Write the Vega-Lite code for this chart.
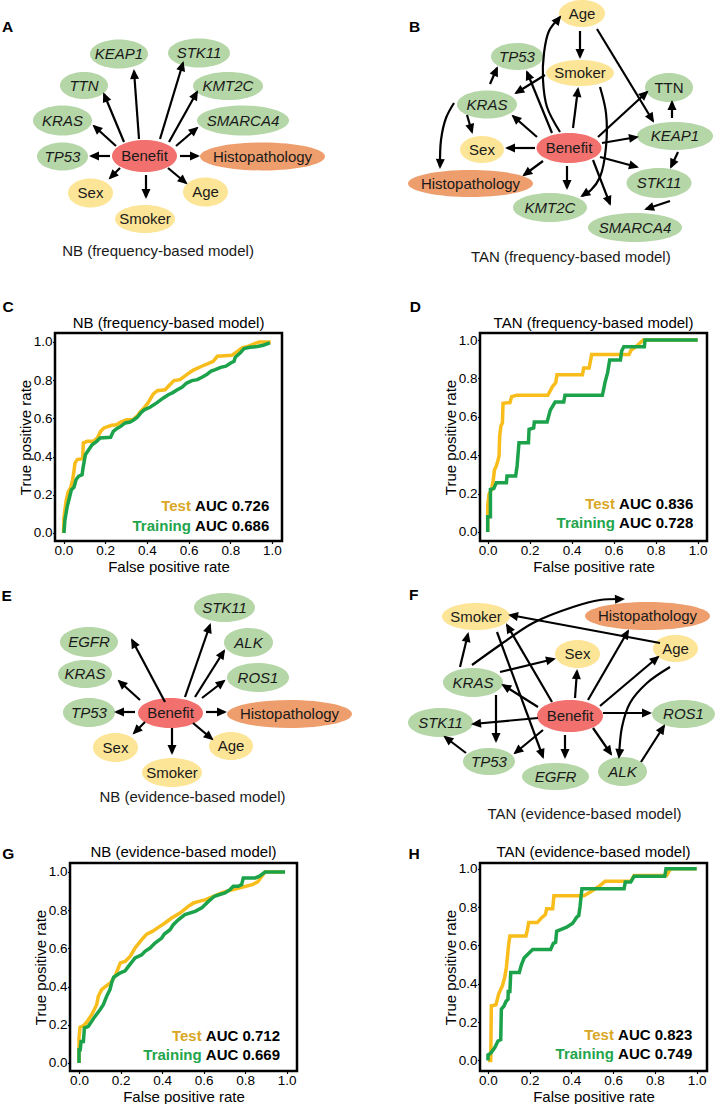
{
"$schema": "https://vega.github.io/schema/vega-lite/v6.json",
"padding": 0,
"background": "white",
"config": {
  "font": "Liberation Sans",
  "view": {"stroke": null},
  "axis": {"grid": false, "domain": false, "tickColor": "black", "tickWidth": 1.2, "tickSize": 2.5, "labelColor": "black", "labelFontSize": 13.5, "titleColor": "black", "titleFontSize": 15, "titleFontWeight": "normal", "labelFlush": false},
  "title": {"fontSize": 15, "fontWeight": "normal", "color": "black", "offset": 2}
},
"datasets": {
  "nodes": [
    {"p":"A","n":"KEAP1","t":"gene","x":119,"y":54},
    {"p":"A","n":"STK11","t":"gene","x":199,"y":53},
    {"p":"A","n":"TTN","t":"gene","x":84,"y":85.5},
    {"p":"A","n":"KMT2C","t":"gene","x":228,"y":86},
    {"p":"A","n":"KRAS","t":"gene","x":62.5,"y":120.5},
    {"p":"A","n":"SMARCA4","t":"gene","x":243,"y":120.5},
    {"p":"A","n":"TP53","t":"gene","x":62.5,"y":156.5},
    {"p":"A","n":"Benefit","t":"ben","x":144.5,"y":156},
    {"p":"A","n":"Histopathology","t":"hist","x":262.5,"y":156.5},
    {"p":"A","n":"Sex","t":"clin","x":90.5,"y":193},
    {"p":"A","n":"Age","t":"clin","x":205.5,"y":192},
    {"p":"A","n":"Smoker","t":"clin","x":145,"y":219},
    {"p":"B","n":"Age","t":"clin","x":582,"y":13.5},
    {"p":"B","n":"TP53","t":"gene","x":517,"y":56.5},
    {"p":"B","n":"Smoker","t":"clin","x":580,"y":73},
    {"p":"B","n":"TTN","t":"gene","x":669,"y":87.5},
    {"p":"B","n":"KRAS","t":"gene","x":487,"y":104.5},
    {"p":"B","n":"KEAP1","t":"gene","x":675,"y":136},
    {"p":"B","n":"Sex","t":"clin","x":482,"y":149.5},
    {"p":"B","n":"Benefit","t":"ben","x":569,"y":148},
    {"p":"B","n":"Histopathology","t":"hist","x":470.5,"y":183.5},
    {"p":"B","n":"STK11","t":"gene","x":659,"y":183},
    {"p":"B","n":"KMT2C","t":"gene","x":550,"y":207.5},
    {"p":"B","n":"SMARCA4","t":"gene","x":635,"y":227.5},
    {"p":"E","n":"STK11","t":"gene","x":224.5,"y":607.5},
    {"p":"E","n":"EGFR","t":"gene","x":89,"y":642},
    {"p":"E","n":"ALK","t":"gene","x":248.5,"y":642.5},
    {"p":"E","n":"KRAS","t":"gene","x":85,"y":674},
    {"p":"E","n":"ROS1","t":"gene","x":258,"y":677.5},
    {"p":"E","n":"TP53","t":"gene","x":89,"y":712.5},
    {"p":"E","n":"Benefit","t":"ben","x":170.5,"y":713},
    {"p":"E","n":"Histopathology","t":"hist","x":289.5,"y":714},
    {"p":"E","n":"Sex","t":"clin","x":115.5,"y":747.5},
    {"p":"E","n":"Age","t":"clin","x":231,"y":746},
    {"p":"E","n":"Smoker","t":"clin","x":172,"y":772.5},
    {"p":"F","n":"Smoker","t":"clin","x":476,"y":616.5},
    {"p":"F","n":"Histopathology","t":"hist","x":647.5,"y":616},
    {"p":"F","n":"Sex","t":"clin","x":577.5,"y":654},
    {"p":"F","n":"Age","t":"clin","x":675.5,"y":648.5},
    {"p":"F","n":"KRAS","t":"gene","x":473,"y":682.5},
    {"p":"F","n":"Benefit","t":"ben","x":570,"y":716},
    {"p":"F","n":"STK11","t":"gene","x":440.5,"y":722.5},
    {"p":"F","n":"ROS1","t":"gene","x":683.5,"y":714},
    {"p":"F","n":"TP53","t":"gene","x":489,"y":761.5},
    {"p":"F","n":"EGFR","t":"gene","x":555.5,"y":776.5},
    {"p":"F","n":"ALK","t":"gene","x":622.5,"y":771.5}
  ],
  "edges": [
    {"p":"A","e":"a1","i":0,"x":139,"y":139},{"p":"A","e":"a1","i":1,"x":134,"y":71},
    {"p":"A","e":"a2","i":0,"x":160,"y":139},{"p":"A","e":"a2","i":1,"x":183,"y":63},
    {"p":"A","e":"a3","i":0,"x":124,"y":142},{"p":"A","e":"a3","i":1,"x":104,"y":94},
    {"p":"A","e":"a4","i":0,"x":169,"y":142},{"p":"A","e":"a4","i":1,"x":197,"y":92},
    {"p":"A","e":"a5","i":0,"x":116,"y":146},{"p":"A","e":"a5","i":1,"x":94,"y":126},
    {"p":"A","e":"a6","i":0,"x":176,"y":146},{"p":"A","e":"a6","i":1,"x":197,"y":128},
    {"p":"A","e":"a7","i":0,"x":110,"y":156},{"p":"A","e":"a7","i":1,"x":91,"y":156},
    {"p":"A","e":"a8","i":0,"x":180,"y":156},{"p":"A","e":"a8","i":1,"x":198,"y":156},
    {"p":"A","e":"a9","i":0,"x":120,"y":168},{"p":"A","e":"a9","i":1,"x":110,"y":178},
    {"p":"A","e":"a10","i":0,"x":146,"y":175},{"p":"A","e":"a10","i":1,"x":146,"y":197},
    {"p":"A","e":"a11","i":0,"x":168,"y":168},{"p":"A","e":"a11","i":1,"x":186,"y":183},
    {"p":"B","e":"b1","i":0,"x":580,"y":31},{"p":"B","e":"b1","i":1,"x":580,"y":57},
    {"p":"B","e":"b2","i":0,"x":597,"y":29},{"p":"B","e":"b2","i":1,"x":653,"y":121},
    {"p":"B","e":"b3","i":0,"x":560,"y":132},{"p":"B","e":"b3","i":1,"x":547,"y":107},{"p":"B","e":"b3","i":2,"x":543,"y":80},{"p":"B","e":"b3","i":3,"x":544,"y":53},{"p":"B","e":"b3","i":4,"x":549,"y":31},{"p":"B","e":"b3","i":5,"x":560,"y":17},
    {"p":"B","e":"b4","i":0,"x":600,"y":87},{"p":"B","e":"b4","i":1,"x":606,"y":113},{"p":"B","e":"b4","i":2,"x":606,"y":147},{"p":"B","e":"b4","i":3,"x":600,"y":177},{"p":"B","e":"b4","i":4,"x":591,"y":190},{"p":"B","e":"b4","i":5,"x":582,"y":196},
    {"p":"B","e":"b5","i":0,"x":545,"y":75},{"p":"B","e":"b5","i":1,"x":516,"y":93},
    {"p":"B","e":"b6","i":0,"x":490,"y":84},{"p":"B","e":"b6","i":1,"x":497,"y":68},
    {"p":"B","e":"b7","i":0,"x":467,"y":115},{"p":"B","e":"b7","i":1,"x":472,"y":132},
    {"p":"B","e":"b8","i":0,"x":454,"y":103},{"p":"B","e":"b8","i":1,"x":446,"y":118},{"p":"B","e":"b8","i":2,"x":441,"y":140},{"p":"B","e":"b8","i":3,"x":440,"y":167},
    {"p":"B","e":"b9","i":0,"x":537,"y":137},{"p":"B","e":"b9","i":1,"x":513,"y":116},
    {"p":"B","e":"b10","i":0,"x":573,"y":128},{"p":"B","e":"b10","i":1,"x":578,"y":89},
    {"p":"B","e":"b11","i":0,"x":598,"y":137},{"p":"B","e":"b11","i":1,"x":647,"y":92},
    {"p":"B","e":"b12","i":0,"x":602,"y":143},{"p":"B","e":"b12","i":1,"x":637,"y":137},
    {"p":"B","e":"b13","i":0,"x":672,"y":118},{"p":"B","e":"b13","i":1,"x":672,"y":102},
    {"p":"B","e":"b14","i":0,"x":678,"y":152},{"p":"B","e":"b14","i":1,"x":671,"y":167},
    {"p":"B","e":"b15","i":0,"x":600,"y":157},{"p":"B","e":"b15","i":1,"x":637,"y":167},
    {"p":"B","e":"b16","i":0,"x":670,"y":201},{"p":"B","e":"b16","i":1,"x":646,"y":209},
    {"p":"B","e":"b17","i":0,"x":593,"y":160},{"p":"B","e":"b17","i":1,"x":610,"y":204},
    {"p":"B","e":"b18","i":0,"x":567,"y":166},{"p":"B","e":"b18","i":1,"x":567,"y":188},
    {"p":"B","e":"b19","i":0,"x":543,"y":161},{"p":"B","e":"b19","i":1,"x":524,"y":175},
    {"p":"B","e":"b20","i":0,"x":535,"y":148},{"p":"B","e":"b20","i":1,"x":507,"y":148},
    {"p":"B","e":"b21","i":0,"x":552,"y":133},{"p":"B","e":"b21","i":1,"x":527,"y":72},
    {"p":"E","e":"e1","i":0,"x":165,"y":702},{"p":"E","e":"e1","i":1,"x":132,"y":640},
    {"p":"E","e":"e2","i":0,"x":185,"y":697},{"p":"E","e":"e2","i":1,"x":210,"y":625},
    {"p":"E","e":"e3","i":0,"x":195,"y":697},{"p":"E","e":"e3","i":1,"x":224,"y":651},
    {"p":"E","e":"e4","i":0,"x":140,"y":700},{"p":"E","e":"e4","i":1,"x":119,"y":681},
    {"p":"E","e":"e5","i":0,"x":202,"y":698},{"p":"E","e":"e5","i":1,"x":224,"y":681},
    {"p":"E","e":"e6","i":0,"x":135,"y":712},{"p":"E","e":"e6","i":1,"x":116,"y":712},
    {"p":"E","e":"e7","i":0,"x":206,"y":712},{"p":"E","e":"e7","i":1,"x":225,"y":712},
    {"p":"E","e":"e8","i":0,"x":145,"y":722},{"p":"E","e":"e8","i":1,"x":134,"y":733},
    {"p":"E","e":"e9","i":0,"x":172,"y":728},{"p":"E","e":"e9","i":1,"x":172,"y":753},
    {"p":"E","e":"e10","i":0,"x":193,"y":723},{"p":"E","e":"e10","i":1,"x":212,"y":739},
    {"p":"F","e":"f1","i":0,"x":472,"y":665},{"p":"F","e":"f1","i":1,"x":500,"y":645},{"p":"F","e":"f1","i":2,"x":533,"y":623},{"p":"F","e":"f1","i":3,"x":573,"y":607},{"p":"F","e":"f1","i":4,"x":600,"y":600},{"p":"F","e":"f1","i":5,"x":623,"y":599},
    {"p":"F","e":"f2","i":0,"x":660,"y":643},{"p":"F","e":"f2","i":1,"x":510,"y":615},
    {"p":"F","e":"f3","i":0,"x":460,"y":667},{"p":"F","e":"f3","i":1,"x":468,"y":634},
    {"p":"F","e":"f4","i":0,"x":497,"y":632},{"p":"F","e":"f4","i":1,"x":543,"y":757},
    {"p":"F","e":"f5","i":0,"x":552,"y":702},{"p":"F","e":"f5","i":1,"x":507,"y":625},
    {"p":"F","e":"f6","i":0,"x":500,"y":672},{"p":"F","e":"f6","i":1,"x":554,"y":659},
    {"p":"F","e":"f7","i":0,"x":575,"y":698},{"p":"F","e":"f7","i":1,"x":577,"y":671},
    {"p":"F","e":"f8","i":0,"x":588,"y":700},{"p":"F","e":"f8","i":1,"x":628,"y":631},
    {"p":"F","e":"f9","i":0,"x":600,"y":706},{"p":"F","e":"f9","i":1,"x":658,"y":657},
    {"p":"F","e":"f10","i":0,"x":670,"y":667},{"p":"F","e":"f10","i":1,"x":647,"y":683},{"p":"F","e":"f10","i":2,"x":630,"y":703},{"p":"F","e":"f10","i":3,"x":622,"y":727},{"p":"F","e":"f10","i":4,"x":619,"y":757},
    {"p":"F","e":"f11","i":0,"x":538,"y":707},{"p":"F","e":"f11","i":1,"x":503,"y":685},
    {"p":"F","e":"f12","i":0,"x":603,"y":713},{"p":"F","e":"f12","i":1,"x":650,"y":713},
    {"p":"F","e":"f13","i":0,"x":538,"y":718},{"p":"F","e":"f13","i":1,"x":473,"y":724},
    {"p":"F","e":"f14","i":0,"x":496,"y":695},{"p":"F","e":"f14","i":1,"x":496,"y":741},
    {"p":"F","e":"f15","i":0,"x":543,"y":730},{"p":"F","e":"f15","i":1,"x":515,"y":753},
    {"p":"F","e":"f16","i":0,"x":565,"y":735},{"p":"F","e":"f16","i":1,"x":565,"y":757},
    {"p":"F","e":"f17","i":0,"x":593,"y":728},{"p":"F","e":"f17","i":1,"x":611,"y":754},
    {"p":"F","e":"f18","i":0,"x":466,"y":753},{"p":"F","e":"f18","i":1,"x":445,"y":737},
    {"p":"F","e":"f19","i":0,"x":641,"y":762},{"p":"F","e":"f19","i":1,"x":664,"y":726}
  ],
  "labels": [
    {"p":"A","k":"letter","s":"A","x":7.5,"y":31.5},
    {"p":"A","k":"letter","s":"C","x":8,"y":311.7},
    {"p":"A","k":"caption","s":"NB (frequency-based model)","x":158,"y":256},
    {"p":"B","k":"letter","s":"B","x":414.5,"y":31.7},
    {"p":"B","k":"letter","s":"D","x":415.3,"y":311.7},
    {"p":"B","k":"caption","s":"TAN (frequency-based model)","x":570.8,"y":262},
    {"p":"E","k":"letter","s":"E","x":6.7,"y":600.7},
    {"p":"E","k":"letter","s":"G","x":8.3,"y":859},
    {"p":"E","k":"caption","s":"NB (evidence-based model)","x":192.5,"y":802},
    {"p":"F","k":"letter","s":"F","x":413.8,"y":600},
    {"p":"F","k":"letter","s":"H","x":414.2,"y":859},
    {"p":"F","k":"caption","s":"TAN (evidence-based model)","x":584.5,"y":818.5}
  ],
  "auc": [
    {"p":"C","s":"Test","a":"AUC 0.726","f":0.987,"t":0.117},
    {"p":"C","s":"Training","a":"AUC 0.686","f":0.987,"t":0.012},
    {"p":"D","s":"Test","a":"AUC 0.836","f":0.979,"t":0.118},
    {"p":"D","s":"Training","a":"AUC 0.728","f":0.979,"t":0.02},
    {"p":"G","s":"Test","a":"AUC 0.712","f":0.968,"t":0.114},
    {"p":"G","s":"Training","a":"AUC 0.669","f":0.968,"t":0.017},
    {"p":"H","s":"Test","a":"AUC 0.823","f":0.979,"t":0.105},
    {"p":"H","s":"Training","a":"AUC 0.749","f":0.979,"t":0.005}
  ],
  "roc": [
    {"p":"C","s":"Test","f":0,"t":0},{"p":"C","s":"Test","f":0.002,"t":0.079},{"p":"C","s":"Test","f":0.012,"t":0.166},{"p":"C","s":"Test","f":0.023,"t":0.218},{"p":"C","s":"Test","f":0.034,"t":0.236},{"p":"C","s":"Test","f":0.044,"t":0.279},{"p":"C","s":"Test","f":0.05,"t":0.323},{"p":"C","s":"Test","f":0.055,"t":0.366},{"p":"C","s":"Test","f":0.066,"t":0.384},{"p":"C","s":"Test","f":0.092,"t":0.389},{"p":"C","s":"Test","f":0.095,"t":0.471},{"p":"C","s":"Test","f":0.114,"t":0.48},{"p":"C","s":"Test","f":0.143,"t":0.48},{"p":"C","s":"Test","f":0.162,"t":0.497},{"p":"C","s":"Test","f":0.178,"t":0.532},{"p":"C","s":"Test","f":0.194,"t":0.55},{"p":"C","s":"Test","f":0.231,"t":0.564},{"p":"C","s":"Test","f":0.255,"t":0.567},{"p":"C","s":"Test","f":0.274,"t":0.581},{"p":"C","s":"Test","f":0.303,"t":0.593},{"p":"C","s":"Test","f":0.332,"t":0.593},{"p":"C","s":"Test","f":0.354,"t":0.614},{"p":"C","s":"Test","f":0.37,"t":0.637},{"p":"C","s":"Test","f":0.386,"t":0.654},{"p":"C","s":"Test","f":0.408,"t":0.686},{"p":"C","s":"Test","f":0.431,"t":0.728},{"p":"C","s":"Test","f":0.45,"t":0.745},{"p":"C","s":"Test","f":0.487,"t":0.75},{"p":"C","s":"Test","f":0.511,"t":0.777},{"p":"C","s":"Test","f":0.53,"t":0.798},{"p":"C","s":"Test","f":0.559,"t":0.803},{"p":"C","s":"Test","f":0.591,"t":0.829},{"p":"C","s":"Test","f":0.623,"t":0.853},{"p":"C","s":"Test","f":0.663,"t":0.873},{"p":"C","s":"Test","f":0.69,"t":0.885},{"p":"C","s":"Test","f":0.718,"t":0.899},{"p":"C","s":"Test","f":0.738,"t":0.925},{"p":"C","s":"Test","f":0.807,"t":0.93},{"p":"C","s":"Test","f":0.834,"t":0.951},{"p":"C","s":"Test","f":0.856,"t":0.969},{"p":"C","s":"Test","f":0.882,"t":0.976},{"p":"C","s":"Test","f":0.914,"t":0.99},{"p":"C","s":"Test","f":0.939,"t":1},{"p":"C","s":"Test","f":0.994,"t":1},
    {"p":"C","s":"Training","f":0.002,"t":0},{"p":"C","s":"Training","f":0.007,"t":0.07},{"p":"C","s":"Training","f":0.018,"t":0.14},{"p":"C","s":"Training","f":0.028,"t":0.183},{"p":"C","s":"Training","f":0.038,"t":0.227},{"p":"C","s":"Training","f":0.05,"t":0.239},{"p":"C","s":"Training","f":0.06,"t":0.279},{"p":"C","s":"Training","f":0.073,"t":0.297},{"p":"C","s":"Training","f":0.089,"t":0.305},{"p":"C","s":"Training","f":0.095,"t":0.349},{"p":"C","s":"Training","f":0.105,"t":0.41},{"p":"C","s":"Training","f":0.121,"t":0.436},{"p":"C","s":"Training","f":0.137,"t":0.462},{"p":"C","s":"Training","f":0.159,"t":0.48},{"p":"C","s":"Training","f":0.175,"t":0.497},{"p":"C","s":"Training","f":0.226,"t":0.501},{"p":"C","s":"Training","f":0.239,"t":0.532},{"p":"C","s":"Training","f":0.255,"t":0.546},{"p":"C","s":"Training","f":0.274,"t":0.558},{"p":"C","s":"Training","f":0.296,"t":0.576},{"p":"C","s":"Training","f":0.319,"t":0.581},{"p":"C","s":"Training","f":0.338,"t":0.593},{"p":"C","s":"Training","f":0.354,"t":0.606},{"p":"C","s":"Training","f":0.37,"t":0.628},{"p":"C","s":"Training","f":0.389,"t":0.646},{"p":"C","s":"Training","f":0.415,"t":0.658},{"p":"C","s":"Training","f":0.447,"t":0.681},{"p":"C","s":"Training","f":0.479,"t":0.707},{"p":"C","s":"Training","f":0.503,"t":0.724},{"p":"C","s":"Training","f":0.524,"t":0.735},{"p":"C","s":"Training","f":0.546,"t":0.75},{"p":"C","s":"Training","f":0.568,"t":0.763},{"p":"C","s":"Training","f":0.591,"t":0.785},{"p":"C","s":"Training","f":0.616,"t":0.798},{"p":"C","s":"Training","f":0.642,"t":0.803},{"p":"C","s":"Training","f":0.664,"t":0.815},{"p":"C","s":"Training","f":0.687,"t":0.829},{"p":"C","s":"Training","f":0.706,"t":0.846},{"p":"C","s":"Training","f":0.728,"t":0.855},{"p":"C","s":"Training","f":0.754,"t":0.867},{"p":"C","s":"Training","f":0.779,"t":0.873},{"p":"C","s":"Training","f":0.802,"t":0.89},{"p":"C","s":"Training","f":0.818,"t":0.899},{"p":"C","s":"Training","f":0.824,"t":0.92},{"p":"C","s":"Training","f":0.847,"t":0.942},{"p":"C","s":"Training","f":0.866,"t":0.965},{"p":"C","s":"Training","f":0.894,"t":0.972},{"p":"C","s":"Training","f":0.93,"t":0.976},{"p":"C","s":"Training","f":0.958,"t":0.983},{"p":"C","s":"Training","f":0.99,"t":0.995},
    {"p":"D","s":"Test","f":0,"t":0},{"p":"D","s":"Test","f":0,"t":0.135},{"p":"D","s":"Test","f":0.006,"t":0.196},{"p":"D","s":"Test","f":0.019,"t":0.222},{"p":"D","s":"Test","f":0.027,"t":0.274},{"p":"D","s":"Test","f":0.032,"t":0.323},{"p":"D","s":"Test","f":0.041,"t":0.344},{"p":"D","s":"Test","f":0.048,"t":0.37},{"p":"D","s":"Test","f":0.054,"t":0.396},{"p":"D","s":"Test","f":0.057,"t":0.5},{"p":"D","s":"Test","f":0.063,"t":0.552},{"p":"D","s":"Test","f":0.07,"t":0.569},{"p":"D","s":"Test","f":0.073,"t":0.67},{"p":"D","s":"Test","f":0.106,"t":0.674},{"p":"D","s":"Test","f":0.114,"t":0.705},{"p":"D","s":"Test","f":0.138,"t":0.712},{"p":"D","s":"Test","f":0.286,"t":0.712},{"p":"D","s":"Test","f":0.297,"t":0.734},{"p":"D","s":"Test","f":0.308,"t":0.757},{"p":"D","s":"Test","f":0.324,"t":0.778},{"p":"D","s":"Test","f":0.33,"t":0.819},{"p":"D","s":"Test","f":0.451,"t":0.819},{"p":"D","s":"Test","f":0.457,"t":0.854},{"p":"D","s":"Test","f":0.483,"t":0.854},{"p":"D","s":"Test","f":0.495,"t":0.924},{"p":"D","s":"Test","f":0.673,"t":0.924},{"p":"D","s":"Test","f":0.683,"t":0.948},{"p":"D","s":"Test","f":0.7,"t":0.96},{"p":"D","s":"Test","f":0.741,"t":1},{"p":"D","s":"Test","f":1,"t":1},
    {"p":"D","s":"Training","f":0,"t":0},{"p":"D","s":"Training","f":0,"t":0.08},{"p":"D","s":"Training","f":0.013,"t":0.08},{"p":"D","s":"Training","f":0.013,"t":0.222},{"p":"D","s":"Training","f":0.029,"t":0.226},{"p":"D","s":"Training","f":0.041,"t":0.257},{"p":"D","s":"Training","f":0.089,"t":0.257},{"p":"D","s":"Training","f":0.092,"t":0.292},{"p":"D","s":"Training","f":0.133,"t":0.292},{"p":"D","s":"Training","f":0.14,"t":0.344},{"p":"D","s":"Training","f":0.149,"t":0.465},{"p":"D","s":"Training","f":0.194,"t":0.465},{"p":"D","s":"Training","f":0.197,"t":0.535},{"p":"D","s":"Training","f":0.219,"t":0.542},{"p":"D","s":"Training","f":0.222,"t":0.573},{"p":"D","s":"Training","f":0.283,"t":0.573},{"p":"D","s":"Training","f":0.298,"t":0.635},{"p":"D","s":"Training","f":0.321,"t":0.677},{"p":"D","s":"Training","f":0.362,"t":0.677},{"p":"D","s":"Training","f":0.368,"t":0.712},{"p":"D","s":"Training","f":0.546,"t":0.712},{"p":"D","s":"Training","f":0.552,"t":0.743},{"p":"D","s":"Training","f":0.559,"t":0.781},{"p":"D","s":"Training","f":0.571,"t":0.83},{"p":"D","s":"Training","f":0.581,"t":0.896},{"p":"D","s":"Training","f":0.632,"t":0.896},{"p":"D","s":"Training","f":0.638,"t":0.943},{"p":"D","s":"Training","f":0.648,"t":0.965},{"p":"D","s":"Training","f":0.746,"t":0.965},{"p":"D","s":"Training","f":0.749,"t":1},{"p":"D","s":"Training","f":1,"t":1},
    {"p":"G","s":"Test","f":0,"t":0},{"p":"G","s":"Test","f":0,"t":0.061},{"p":"G","s":"Test","f":0,"t":0.131},{"p":"G","s":"Test","f":0.005,"t":0.187},{"p":"G","s":"Test","f":0.021,"t":0.195},{"p":"G","s":"Test","f":0.037,"t":0.213},{"p":"G","s":"Test","f":0.061,"t":0.253},{"p":"G","s":"Test","f":0.085,"t":0.305},{"p":"G","s":"Test","f":0.093,"t":0.349},{"p":"G","s":"Test","f":0.109,"t":0.384},{"p":"G","s":"Test","f":0.128,"t":0.401},{"p":"G","s":"Test","f":0.151,"t":0.419},{"p":"G","s":"Test","f":0.173,"t":0.454},{"p":"G","s":"Test","f":0.189,"t":0.497},{"p":"G","s":"Test","f":0.199,"t":0.524},{"p":"G","s":"Test","f":0.222,"t":0.532},{"p":"G","s":"Test","f":0.246,"t":0.558},{"p":"G","s":"Test","f":0.27,"t":0.602},{"p":"G","s":"Test","f":0.302,"t":0.646},{"p":"G","s":"Test","f":0.326,"t":0.675},{"p":"G","s":"Test","f":0.353,"t":0.689},{"p":"G","s":"Test","f":0.382,"t":0.71},{"p":"G","s":"Test","f":0.414,"t":0.733},{"p":"G","s":"Test","f":0.446,"t":0.759},{"p":"G","s":"Test","f":0.486,"t":0.785},{"p":"G","s":"Test","f":0.526,"t":0.82},{"p":"G","s":"Test","f":0.551,"t":0.838},{"p":"G","s":"Test","f":0.578,"t":0.846},{"p":"G","s":"Test","f":0.61,"t":0.855},{"p":"G","s":"Test","f":0.647,"t":0.873},{"p":"G","s":"Test","f":0.687,"t":0.89},{"p":"G","s":"Test","f":0.719,"t":0.902},{"p":"G","s":"Test","f":0.743,"t":0.908},{"p":"G","s":"Test","f":0.77,"t":0.916},{"p":"G","s":"Test","f":0.803,"t":0.925},{"p":"G","s":"Test","f":0.835,"t":0.934},{"p":"G","s":"Test","f":0.86,"t":0.948},{"p":"G","s":"Test","f":0.896,"t":1},{"p":"G","s":"Test","f":0.992,"t":1},
    {"p":"G","s":"Training","f":0,"t":0},{"p":"G","s":"Training","f":0,"t":0.07},{"p":"G","s":"Training","f":0.006,"t":0.07},{"p":"G","s":"Training","f":0.01,"t":0.113},{"p":"G","s":"Training","f":0.021,"t":0.113},{"p":"G","s":"Training","f":0.026,"t":0.183},{"p":"G","s":"Training","f":0.045,"t":0.192},{"p":"G","s":"Training","f":0.061,"t":0.218},{"p":"G","s":"Training","f":0.077,"t":0.244},{"p":"G","s":"Training","f":0.101,"t":0.279},{"p":"G","s":"Training","f":0.117,"t":0.305},{"p":"G","s":"Training","f":0.133,"t":0.349},{"p":"G","s":"Training","f":0.149,"t":0.384},{"p":"G","s":"Training","f":0.157,"t":0.419},{"p":"G","s":"Training","f":0.167,"t":0.449},{"p":"G","s":"Training","f":0.197,"t":0.471},{"p":"G","s":"Training","f":0.222,"t":0.483},{"p":"G","s":"Training","f":0.238,"t":0.506},{"p":"G","s":"Training","f":0.27,"t":0.55},{"p":"G","s":"Training","f":0.302,"t":0.567},{"p":"G","s":"Training","f":0.318,"t":0.585},{"p":"G","s":"Training","f":0.342,"t":0.602},{"p":"G","s":"Training","f":0.366,"t":0.628},{"p":"G","s":"Training","f":0.398,"t":0.654},{"p":"G","s":"Training","f":0.411,"t":0.675},{"p":"G","s":"Training","f":0.438,"t":0.698},{"p":"G","s":"Training","f":0.454,"t":0.724},{"p":"G","s":"Training","f":0.478,"t":0.75},{"p":"G","s":"Training","f":0.51,"t":0.777},{"p":"G","s":"Training","f":0.559,"t":0.794},{"p":"G","s":"Training","f":0.591,"t":0.812},{"p":"G","s":"Training","f":0.623,"t":0.846},{"p":"G","s":"Training","f":0.652,"t":0.873},{"p":"G","s":"Training","f":0.674,"t":0.881},{"p":"G","s":"Training","f":0.703,"t":0.89},{"p":"G","s":"Training","f":0.727,"t":0.908},{"p":"G","s":"Training","f":0.743,"t":0.925},{"p":"G","s":"Training","f":0.767,"t":0.925},{"p":"G","s":"Training","f":0.783,"t":0.934},{"p":"G","s":"Training","f":0.791,"t":0.969},{"p":"G","s":"Training","f":0.848,"t":0.969},{"p":"G","s":"Training","f":0.867,"t":0.977},{"p":"G","s":"Training","f":0.896,"t":1},{"p":"G","s":"Training","f":0.992,"t":1},
    {"p":"H","s":"Test","f":0,"t":0},{"p":"H","s":"Test","f":0.013,"t":0},{"p":"H","s":"Test","f":0.016,"t":0.284},{"p":"H","s":"Test","f":0.038,"t":0.29},{"p":"H","s":"Test","f":0.051,"t":0.346},{"p":"H","s":"Test","f":0.069,"t":0.389},{"p":"H","s":"Test","f":0.08,"t":0.433},{"p":"H","s":"Test","f":0.088,"t":0.485},{"p":"H","s":"Test","f":0.093,"t":0.538},{"p":"H","s":"Test","f":0.099,"t":0.604},{"p":"H","s":"Test","f":0.105,"t":0.649},{"p":"H","s":"Test","f":0.182,"t":0.649},{"p":"H","s":"Test","f":0.188,"t":0.677},{"p":"H","s":"Test","f":0.195,"t":0.719},{"p":"H","s":"Test","f":0.236,"t":0.719},{"p":"H","s":"Test","f":0.256,"t":0.743},{"p":"H","s":"Test","f":0.275,"t":0.761},{"p":"H","s":"Test","f":0.281,"t":0.791},{"p":"H","s":"Test","f":0.31,"t":0.791},{"p":"H","s":"Test","f":0.316,"t":0.859},{"p":"H","s":"Test","f":0.46,"t":0.859},{"p":"H","s":"Test","f":0.492,"t":0.88},{"p":"H","s":"Test","f":0.532,"t":0.908},{"p":"H","s":"Test","f":0.561,"t":0.934},{"p":"H","s":"Test","f":0.684,"t":0.934},{"p":"H","s":"Test","f":0.7,"t":0.965},{"p":"H","s":"Test","f":0.856,"t":0.965},{"p":"H","s":"Test","f":0.875,"t":1},{"p":"H","s":"Test","f":1,"t":1},
    {"p":"H","s":"Training","f":0,"t":0},{"p":"H","s":"Training","f":0,"t":0.028},{"p":"H","s":"Training","f":0.013,"t":0.038},{"p":"H","s":"Training","f":0.032,"t":0.066},{"p":"H","s":"Training","f":0.048,"t":0.101},{"p":"H","s":"Training","f":0.061,"t":0.108},{"p":"H","s":"Training","f":0.064,"t":0.267},{"p":"H","s":"Training","f":0.077,"t":0.284},{"p":"H","s":"Training","f":0.086,"t":0.307},{"p":"H","s":"Training","f":0.096,"t":0.319},{"p":"H","s":"Training","f":0.097,"t":0.36},{"p":"H","s":"Training","f":0.105,"t":0.36},{"p":"H","s":"Training","f":0.109,"t":0.459},{"p":"H","s":"Training","f":0.15,"t":0.459},{"p":"H","s":"Training","f":0.16,"t":0.499},{"p":"H","s":"Training","f":0.173,"t":0.534},{"p":"H","s":"Training","f":0.192,"t":0.555},{"p":"H","s":"Training","f":0.214,"t":0.578},{"p":"H","s":"Training","f":0.3,"t":0.578},{"p":"H","s":"Training","f":0.313,"t":0.611},{"p":"H","s":"Training","f":0.324,"t":0.616},{"p":"H","s":"Training","f":0.329,"t":0.674},{"p":"H","s":"Training","f":0.351,"t":0.684},{"p":"H","s":"Training","f":0.377,"t":0.695},{"p":"H","s":"Training","f":0.406,"t":0.716},{"p":"H","s":"Training","f":0.425,"t":0.747},{"p":"H","s":"Training","f":0.435,"t":0.756},{"p":"H","s":"Training","f":0.441,"t":0.803},{"p":"H","s":"Training","f":0.45,"t":0.895},{"p":"H","s":"Training","f":0.652,"t":0.895},{"p":"H","s":"Training","f":0.658,"t":0.93},{"p":"H","s":"Training","f":0.684,"t":0.93},{"p":"H","s":"Training","f":0.7,"t":0.96},{"p":"H","s":"Training","f":0.847,"t":0.96},{"p":"H","s":"Training","f":0.853,"t":1},{"p":"H","s":"Training","f":1,"t":1}
  ],
  "frame": [
    {"p":"G","f":-0.0433,"f2":1.0496,"t":-0.0419,"t2":1.0471}
  ]
},
"columns": 4,
"align": "each",
"spacing": 0,
"bounds": "flush",
"resolve": {"scale": {"shape": "independent", "fill": "independent", "stroke": "independent"}},
"concat": [
  {
    "width": 55, "height": 333,
    "encoding": {
      "x": {"field": "x", "type": "quantitative", "scale": {"domain": [0, 55], "nice": false, "zero": false}, "axis": null},
      "y": {"field": "y", "type": "quantitative", "scale": {"domain": [0, 333], "nice": false, "zero": false, "reverse": true}, "axis": null}
    },
    "layer": [
      {"data": {"name": "nodes"}, "transform": [{"filter": "datum.p=='A'"}],
       "mark": {"type": "point", "filled": true, "size": 4, "opacity": 1, "strokeWidth": 0},
       "encoding": {
         "shape": {"field": "n", "type": "nominal", "legend": null, "scale": {
           "domain": ["KEAP1","STK11","TTN","KMT2C","KRAS","SMARCA4","TP53","Benefit","Histopathology","Sex","Age","Smoker"],
           "range": ["M-29,0A29,14.5 0 1 0 29,0A29,14.5 0 1 0 -29,0Z","M-31,0A31,14.5 0 1 0 31,0A31,14.5 0 1 0 -31,0Z","M-24,0A24,13.5 0 1 0 24,0A24,13.5 0 1 0 -24,0Z","M-35,0A35,14 0 1 0 35,0A35,14 0 1 0 -35,0Z","M-29.5,0A29.5,15 0 1 0 29.5,0A29.5,15 0 1 0 -29.5,0Z","M-46,0A46,15 0 1 0 46,0A46,15 0 1 0 -46,0Z","M-25.5,0A25.5,14 0 1 0 25.5,0A25.5,14 0 1 0 -25.5,0Z","M-32.5,0A32.5,16 0 1 0 32.5,0A32.5,16 0 1 0 -32.5,0Z","M-62.5,0A62.5,14 0 1 0 62.5,0A62.5,14 0 1 0 -62.5,0Z","M-22.5,0A22.5,14.5 0 1 0 22.5,0A22.5,14.5 0 1 0 -22.5,0Z","M-22.5,0A22.5,14.5 0 1 0 22.5,0A22.5,14.5 0 1 0 -22.5,0Z","M-30,0A30,14 0 1 0 30,0A30,14 0 1 0 -30,0Z"]}},
         "fill": {"field": "t", "type": "nominal", "legend": null, "scale": {"domain": ["gene","clin","ben","hist"], "range": ["#b5d6a7","#fde597","#f2716e","#ee9e6d"]}}
       }},
      {"data": {"name": "edges"}, "transform": [{"filter": "datum.p=='A'"}],
       "mark": {"type": "line", "interpolate": "catmull-rom", "stroke": "black", "strokeWidth": 2.2},
       "encoding": {"detail": {"field": "e", "type": "nominal"}, "order": {"field": "i", "type": "quantitative"}}},
      {"data": {"name": "edges"}, "transform": [{"filter": "datum.p=='A'"},
         {"window": [{"op": "lag", "field": "x", "as": "px"}, {"op": "lag", "field": "y", "as": "py"}], "groupby": ["e"], "sort": [{"field": "i", "order": "ascending"}]},
         {"joinaggregate": [{"op": "max", "field": "i", "as": "mi"}], "groupby": ["e"]},
         {"filter": "datum.i==datum.mi"},
         {"calculate": "atan2(datum.x-datum.px, datum.py-datum.y)*180/PI", "as": "ang"}],
       "mark": {"type": "point", "shape": "M0,-2L4.5,8L-4.5,8Z", "filled": true, "size": 4, "opacity": 1, "fill": "black", "strokeWidth": 0},
       "encoding": {"angle": {"field": "ang", "type": "quantitative", "scale": null}}},
      {"data": {"name": "nodes"}, "transform": [{"filter": "datum.p=='A' && datum.t=='gene'"}],
       "mark": {"type": "text", "fontSize": 15, "fontStyle": "italic", "baseline": "alphabetic", "dy": 5.3, "color": "#1a1a1a"},
       "encoding": {"text": {"field": "n"}}},
      {"data": {"name": "nodes"}, "transform": [{"filter": "datum.p=='A' && datum.t!='gene'"}],
       "mark": {"type": "text", "fontSize": 15, "baseline": "alphabetic", "dy": 5.3, "color": "#1a1a1a"},
       "encoding": {"text": {"field": "n"}}},
      {"data": {"name": "labels"}, "transform": [{"filter": "datum.p=='A' && datum.k=='letter'"}],
       "mark": {"type": "text", "fontSize": 15.5, "fontWeight": "bold", "baseline": "alphabetic", "color": "black"},
       "encoding": {"text": {"field": "s"}}},
      {"data": {"name": "labels"}, "transform": [{"filter": "datum.p=='A' && datum.k=='caption'"}],
       "mark": {"type": "text", "fontSize": 15, "baseline": "alphabetic", "color": "#1a1a1a"},
       "encoding": {"text": {"field": "s"}}}
    ]
  },
  {"width": 242, "height": 333, "data": {"values": []}, "mark": "point"},
  {
    "width": 183, "height": 333,
    "encoding": {
      "x": {"field": "x", "type": "quantitative", "scale": {"domain": [297, 480], "nice": false, "zero": false}, "axis": null},
      "y": {"field": "y", "type": "quantitative", "scale": {"domain": [0, 333], "nice": false, "zero": false, "reverse": true}, "axis": null}
    },
    "layer": [
      {"data": {"name": "nodes"}, "transform": [{"filter": "datum.p=='B'"}],
       "mark": {"type": "point", "filled": true, "size": 4, "opacity": 1, "strokeWidth": 0},
       "encoding": {
         "shape": {"field": "n", "type": "nominal", "legend": null, "scale": {
           "domain": ["Age","TP53","Smoker","TTN","KRAS","KEAP1","Sex","Benefit","Histopathology","STK11","KMT2C","SMARCA4"],
           "range": ["M-23,0A23,13.5 0 1 0 23,0A23,13.5 0 1 0 -23,0Z","M-26,0A26,13.5 0 1 0 26,0A26,13.5 0 1 0 -26,0Z","M-34,0A34,13 0 1 0 34,0A34,13 0 1 0 -34,0Z","M-24,0A24,14.5 0 1 0 24,0A24,14.5 0 1 0 -24,0Z","M-30,0A30,14 0 1 0 30,0A30,14 0 1 0 -30,0Z","M-38,0A38,14 0 1 0 38,0A38,14 0 1 0 -38,0Z","M-22,0A22,13.5 0 1 0 22,0A22,13.5 0 1 0 -22,0Z","M-32.5,0A32.5,15 0 1 0 32.5,0A32.5,15 0 1 0 -32.5,0Z","M-62.5,0A62.5,13.5 0 1 0 62.5,0A62.5,13.5 0 1 0 -62.5,0Z","M-32.5,0A32.5,15 0 1 0 32.5,0A32.5,15 0 1 0 -32.5,0Z","M-37,0A37,14.5 0 1 0 37,0A37,14.5 0 1 0 -37,0Z","M-47,0A47,14.5 0 1 0 47,0A47,14.5 0 1 0 -47,0Z"]}},
         "fill": {"field": "t", "type": "nominal", "legend": null, "scale": {"domain": ["gene","clin","ben","hist"], "range": ["#b5d6a7","#fde597","#f2716e","#ee9e6d"]}}
       }},
      {"data": {"name": "edges"}, "transform": [{"filter": "datum.p=='B'"}],
       "mark": {"type": "line", "interpolate": "catmull-rom", "stroke": "black", "strokeWidth": 2.2},
       "encoding": {"detail": {"field": "e", "type": "nominal"}, "order": {"field": "i", "type": "quantitative"}}},
      {"data": {"name": "edges"}, "transform": [{"filter": "datum.p=='B'"},
         {"window": [{"op": "lag", "field": "x", "as": "px"}, {"op": "lag", "field": "y", "as": "py"}], "groupby": ["e"], "sort": [{"field": "i", "order": "ascending"}]},
         {"joinaggregate": [{"op": "max", "field": "i", "as": "mi"}], "groupby": ["e"]},
         {"filter": "datum.i==datum.mi"},
         {"calculate": "atan2(datum.x-datum.px, datum.py-datum.y)*180/PI", "as": "ang"}],
       "mark": {"type": "point", "shape": "M0,-2L4.5,8L-4.5,8Z", "filled": true, "size": 4, "opacity": 1, "fill": "black", "strokeWidth": 0},
       "encoding": {"angle": {"field": "ang", "type": "quantitative", "scale": null}}},
      {"data": {"name": "nodes"}, "transform": [{"filter": "datum.p=='B' && datum.t=='gene' && datum.n!='TTN'"}],
       "mark": {"type": "text", "fontSize": 15, "fontStyle": "italic", "baseline": "alphabetic", "dy": 5.3, "color": "#1a1a1a"},
       "encoding": {"text": {"field": "n"}}},
      {"data": {"name": "nodes"}, "transform": [{"filter": "datum.p=='B' && (datum.t!='gene' || datum.n=='TTN')"}],
       "mark": {"type": "text", "fontSize": 15, "baseline": "alphabetic", "dy": 5.3, "color": "#1a1a1a"},
       "encoding": {"text": {"field": "n"}}},
      {"data": {"name": "labels"}, "transform": [{"filter": "datum.p=='B' && datum.k=='letter'"}],
       "mark": {"type": "text", "fontSize": 15.5, "fontWeight": "bold", "baseline": "alphabetic", "color": "black"},
       "encoding": {"text": {"field": "s"}}},
      {"data": {"name": "labels"}, "transform": [{"filter": "datum.p=='B' && datum.k=='caption'"}],
       "mark": {"type": "text", "fontSize": 15, "baseline": "alphabetic", "color": "#1a1a1a"},
       "encoding": {"text": {"field": "s"}}}
    ]
  },
  {"width": 227, "height": 333, "data": {"values": []}, "mark": "point"},
  {"width": 55, "height": 208, "data": {"values": []}, "mark": "point"},
  {
    "width": 227, "height": 208,
    "title": {"text": "NB (frequency-based model)"},
    "view": {"stroke": "black", "strokeWidth": 2.5},
    "encoding": {
      "x": {"field": "f", "type": "quantitative", "scale": {"domain": [-0.0408, 1.048], "nice": false, "zero": false}, "axis": {"title": "False positive rate", "values": [0, 0.2, 0.4, 0.6, 0.8, 1], "format": ".1f", "labelPadding": 0.2, "titlePadding": 2}},
      "y": {"field": "t", "type": "quantitative", "scale": {"domain": [-0.0419, 1.047], "nice": false, "zero": false}, "axis": {"title": "True positive rate", "values": [0, 0.2, 0.4, 0.6, 0.8, 1], "format": ".1f", "labelPadding": 0.5, "titlePadding": 0}}
    },
    "layer": [
      {"data": {"name": "roc"}, "transform": [{"filter": "datum.p=='C'"}], "mark": {"type": "line", "strokeWidth": 3.5},
       "encoding": {"stroke": {"field": "s", "type": "nominal", "legend": null, "scale": {"domain": ["Test", "Training"], "range": ["#f8bc1b", "#1ba24a"]}}, "order": {"value": null}}},
      {"data": {"name": "auc"}, "transform": [{"filter": "datum.p=='C'"}], "mark": {"type": "text", "align": "right", "baseline": "alphabetic", "fontSize": 15, "fontWeight": "bold", "color": "black"},
       "encoding": {"text": {"field": "a"}}},
      {"data": {"name": "auc"}, "transform": [{"filter": "datum.p=='C'"}], "mark": {"type": "text", "align": "right", "baseline": "alphabetic", "fontSize": 15, "fontWeight": "bold", "dx": -78.4},
       "encoding": {"text": {"field": "s"}, "fill": {"field": "s", "type": "nominal", "legend": null, "scale": {"domain": ["Test", "Training"], "range": ["#d9a726", "#22a54b"]}}}}
    ]
  },
  {"width": 183, "height": 208, "data": {"values": []}, "mark": "point"},
  {
    "width": 227, "height": 208,
    "title": {"text": "TAN (frequency-based model)"},
    "view": {"stroke": "black", "strokeWidth": 2.5},
    "encoding": {
      "x": {"field": "f", "type": "quantitative", "scale": {"domain": [-0.0367, 1.0443], "nice": false, "zero": false}, "axis": {"title": "False positive rate", "values": [0, 0.2, 0.4, 0.6, 0.8, 1], "format": ".1f", "labelPadding": 0.2, "titlePadding": 2}},
      "y": {"field": "t", "type": "quantitative", "scale": {"domain": [-0.0469, 1.0365], "nice": false, "zero": false}, "axis": {"title": "True positive rate", "values": [0, 0.2, 0.4, 0.6, 0.8, 1], "format": ".1f", "labelPadding": 0.5, "titlePadding": 0}}
    },
    "layer": [
      {"data": {"name": "roc"}, "transform": [{"filter": "datum.p=='D'"}], "mark": {"type": "line", "strokeWidth": 3.5},
       "encoding": {"stroke": {"field": "s", "type": "nominal", "legend": null, "scale": {"domain": ["Test", "Training"], "range": ["#f8bc1b", "#1ba24a"]}}, "order": {"value": null}}},
      {"data": {"name": "auc"}, "transform": [{"filter": "datum.p=='D'"}], "mark": {"type": "text", "align": "right", "baseline": "alphabetic", "fontSize": 15, "fontWeight": "bold", "color": "black"},
       "encoding": {"text": {"field": "a"}}},
      {"data": {"name": "auc"}, "transform": [{"filter": "datum.p=='D'"}], "mark": {"type": "text", "align": "right", "baseline": "alphabetic", "fontSize": 15, "fontWeight": "bold", "dx": -78.4},
       "encoding": {"text": {"field": "s"}, "fill": {"field": "s", "type": "nominal", "legend": null, "scale": {"domain": ["Test", "Training"], "range": ["#d9a726", "#22a54b"]}}}}
    ]
  },
  {
    "width": 55, "height": 322,
    "encoding": {
      "x": {"field": "x", "type": "quantitative", "scale": {"domain": [0, 55], "nice": false, "zero": false}, "axis": null},
      "y": {"field": "y", "type": "quantitative", "scale": {"domain": [541, 863], "nice": false, "zero": false, "reverse": true}, "axis": null}
    },
    "layer": [
      {"data": {"name": "nodes"}, "transform": [{"filter": "datum.p=='E'"}],
       "mark": {"type": "point", "filled": true, "size": 4, "opacity": 1, "strokeWidth": 0},
       "encoding": {
         "shape": {"field": "n", "type": "nominal", "legend": null, "scale": {
           "domain": ["STK11","EGFR","ALK","KRAS","ROS1","TP53","Benefit","Histopathology","Sex","Age","Smoker"],
           "range": ["M-30.5,0A30.5,14.5 0 1 0 30.5,0A30.5,14.5 0 1 0 -30.5,0Z","M-29,0A29,15 0 1 0 29,0A29,15 0 1 0 -29,0Z","M-24.5,0A24.5,14.5 0 1 0 24.5,0A24.5,14.5 0 1 0 -24.5,0Z","M-27,0A27,14 0 1 0 27,0A27,14 0 1 0 -27,0Z","M-31,0A31,14.5 0 1 0 31,0A31,14.5 0 1 0 -31,0Z","M-26,0A26,14.5 0 1 0 26,0A26,14.5 0 1 0 -26,0Z","M-32.5,0A32.5,15 0 1 0 32.5,0A32.5,15 0 1 0 -32.5,0Z","M-62.5,0A62.5,14 0 1 0 62.5,0A62.5,14 0 1 0 -62.5,0Z","M-22.5,0A22.5,14.5 0 1 0 22.5,0A22.5,14.5 0 1 0 -22.5,0Z","M-22,0A22,14 0 1 0 22,0A22,14 0 1 0 -22,0Z","M-30,0A30,14.5 0 1 0 30,0A30,14.5 0 1 0 -30,0Z"]}},
         "fill": {"field": "t", "type": "nominal", "legend": null, "scale": {"domain": ["gene","clin","ben","hist"], "range": ["#b5d6a7","#fde597","#f2716e","#ee9e6d"]}}
       }},
      {"data": {"name": "edges"}, "transform": [{"filter": "datum.p=='E'"}],
       "mark": {"type": "line", "interpolate": "catmull-rom", "stroke": "black", "strokeWidth": 2.2},
       "encoding": {"detail": {"field": "e", "type": "nominal"}, "order": {"field": "i", "type": "quantitative"}}},
      {"data": {"name": "edges"}, "transform": [{"filter": "datum.p=='E'"},
         {"window": [{"op": "lag", "field": "x", "as": "px"}, {"op": "lag", "field": "y", "as": "py"}], "groupby": ["e"], "sort": [{"field": "i", "order": "ascending"}]},
         {"joinaggregate": [{"op": "max", "field": "i", "as": "mi"}], "groupby": ["e"]},
         {"filter": "datum.i==datum.mi"},
         {"calculate": "atan2(datum.x-datum.px, datum.py-datum.y)*180/PI", "as": "ang"}],
       "mark": {"type": "point", "shape": "M0,-2L4.5,8L-4.5,8Z", "filled": true, "size": 4, "opacity": 1, "fill": "black", "strokeWidth": 0},
       "encoding": {"angle": {"field": "ang", "type": "quantitative", "scale": null}}},
      {"data": {"name": "nodes"}, "transform": [{"filter": "datum.p=='E' && datum.t=='gene'"}],
       "mark": {"type": "text", "fontSize": 15, "fontStyle": "italic", "baseline": "alphabetic", "dy": 5.3, "color": "#1a1a1a"},
       "encoding": {"text": {"field": "n"}}},
      {"data": {"name": "nodes"}, "transform": [{"filter": "datum.p=='E' && datum.t!='gene'"}],
       "mark": {"type": "text", "fontSize": 15, "baseline": "alphabetic", "dy": 5.3, "color": "#1a1a1a"},
       "encoding": {"text": {"field": "n"}}},
      {"data": {"name": "labels"}, "transform": [{"filter": "datum.p=='E' && datum.k=='letter'"}],
       "mark": {"type": "text", "fontSize": 15.5, "fontWeight": "bold", "baseline": "alphabetic", "color": "black"},
       "encoding": {"text": {"field": "s"}}},
      {"data": {"name": "labels"}, "transform": [{"filter": "datum.p=='E' && datum.k=='caption'"}],
       "mark": {"type": "text", "fontSize": 15, "baseline": "alphabetic", "color": "#1a1a1a"},
       "encoding": {"text": {"field": "s"}}}
    ]
  },
  {"width": 242, "height": 322, "data": {"values": []}, "mark": "point"},
  {
    "width": 183, "height": 322,
    "encoding": {
      "x": {"field": "x", "type": "quantitative", "scale": {"domain": [297, 480], "nice": false, "zero": false}, "axis": null},
      "y": {"field": "y", "type": "quantitative", "scale": {"domain": [541, 863], "nice": false, "zero": false, "reverse": true}, "axis": null}
    },
    "layer": [
      {"data": {"name": "nodes"}, "transform": [{"filter": "datum.p=='F'"}],
       "mark": {"type": "point", "filled": true, "size": 4, "opacity": 1, "strokeWidth": 0},
       "encoding": {
         "shape": {"field": "n", "type": "nominal", "legend": null, "scale": {
           "domain": ["Smoker","Histopathology","Sex","Age","KRAS","Benefit","STK11","ROS1","TP53","EGFR","ALK"],
           "range": ["M-34,0A34,13.5 0 1 0 34,0A34,13.5 0 1 0 -34,0Z","M-62.5,0A62.5,14 0 1 0 62.5,0A62.5,14 0 1 0 -62.5,0Z","M-22.5,0A22.5,14 0 1 0 22.5,0A22.5,14 0 1 0 -22.5,0Z","M-22.5,0A22.5,13.5 0 1 0 22.5,0A22.5,13.5 0 1 0 -22.5,0Z","M-30,0A30,14.5 0 1 0 30,0A30,14.5 0 1 0 -30,0Z","M-33,0A33,16 0 1 0 33,0A33,16 0 1 0 -33,0Z","M-32.5,0A32.5,14.5 0 1 0 32.5,0A32.5,14.5 0 1 0 -32.5,0Z","M-31.5,0A31.5,14 0 1 0 31.5,0A31.5,14 0 1 0 -31.5,0Z","M-26,0A26,13.5 0 1 0 26,0A26,13.5 0 1 0 -26,0Z","M-33.5,0A33.5,13.5 0 1 0 33.5,0A33.5,13.5 0 1 0 -33.5,0Z","M-24.5,0A24.5,14.5 0 1 0 24.5,0A24.5,14.5 0 1 0 -24.5,0Z"]}},
         "fill": {"field": "t", "type": "nominal", "legend": null, "scale": {"domain": ["gene","clin","ben","hist"], "range": ["#b5d6a7","#fde597","#f2716e","#ee9e6d"]}}
       }},
      {"data": {"name": "edges"}, "transform": [{"filter": "datum.p=='F'"}],
       "mark": {"type": "line", "interpolate": "catmull-rom", "stroke": "black", "strokeWidth": 2.2},
       "encoding": {"detail": {"field": "e", "type": "nominal"}, "order": {"field": "i", "type": "quantitative"}}},
      {"data": {"name": "edges"}, "transform": [{"filter": "datum.p=='F'"},
         {"window": [{"op": "lag", "field": "x", "as": "px"}, {"op": "lag", "field": "y", "as": "py"}], "groupby": ["e"], "sort": [{"field": "i", "order": "ascending"}]},
         {"joinaggregate": [{"op": "max", "field": "i", "as": "mi"}], "groupby": ["e"]},
         {"filter": "datum.i==datum.mi"},
         {"calculate": "atan2(datum.x-datum.px, datum.py-datum.y)*180/PI", "as": "ang"}],
       "mark": {"type": "point", "shape": "M0,-2L4.5,8L-4.5,8Z", "filled": true, "size": 4, "opacity": 1, "fill": "black", "strokeWidth": 0},
       "encoding": {"angle": {"field": "ang", "type": "quantitative", "scale": null}}},
      {"data": {"name": "nodes"}, "transform": [{"filter": "datum.p=='F' && datum.t=='gene'"}],
       "mark": {"type": "text", "fontSize": 15, "fontStyle": "italic", "baseline": "alphabetic", "dy": 5.3, "color": "#1a1a1a"},
       "encoding": {"text": {"field": "n"}}},
      {"data": {"name": "nodes"}, "transform": [{"filter": "datum.p=='F' && datum.t!='gene'"}],
       "mark": {"type": "text", "fontSize": 15, "baseline": "alphabetic", "dy": 5.3, "color": "#1a1a1a"},
       "encoding": {"text": {"field": "n"}}},
      {"data": {"name": "labels"}, "transform": [{"filter": "datum.p=='F' && datum.k=='letter'"}],
       "mark": {"type": "text", "fontSize": 15.5, "fontWeight": "bold", "baseline": "alphabetic", "color": "black"},
       "encoding": {"text": {"field": "s"}}},
      {"data": {"name": "labels"}, "transform": [{"filter": "datum.p=='F' && datum.k=='caption'"}],
       "mark": {"type": "text", "fontSize": 15, "baseline": "alphabetic", "color": "#1a1a1a"},
       "encoding": {"text": {"field": "s"}}}
    ]
  },
  {"width": 227, "height": 322, "data": {"values": []}, "mark": "point"},
  {"width": 55, "height": 208, "data": {"values": []}, "mark": "point"},
  {
    "width": 242, "height": 208,
    "title": {"text": "NB (evidence-based model)", "dx": 7.5},
    "encoding": {
      "x": {"field": "f", "type": "quantitative", "scale": {"domain": [-0.1156, 1.0496], "nice": false, "zero": false}, "axis": {"title": "False positive rate", "values": [0, 0.2, 0.4, 0.6, 0.8, 1], "format": ".1f", "labelPadding": 0.2, "titlePadding": 2, "titleX": 128.5}},
      "y": {"field": "t", "type": "quantitative", "scale": {"domain": [-0.0419, 1.0471], "nice": false, "zero": false}, "axis": {"title": "True positive rate", "values": [0, 0.2, 0.4, 0.6, 0.8, 1], "format": ".1f", "labelPadding": 0.5, "titlePadding": 0, "offset": -15}}
    },
    "layer": [
      {"data": {"name": "frame"}, "transform": [{"filter": "datum.p=='G'"}],
       "mark": {"type": "rect", "filled": false, "stroke": "black", "strokeWidth": 2.5},
       "encoding": {"x2": {"field": "f2"}, "y2": {"field": "t2"}}},
      {"data": {"name": "roc"}, "transform": [{"filter": "datum.p=='G'"}], "mark": {"type": "line", "strokeWidth": 3.5},
       "encoding": {"stroke": {"field": "s", "type": "nominal", "legend": null, "scale": {"domain": ["Test", "Training"], "range": ["#f8bc1b", "#1ba24a"]}}, "order": {"value": null}}},
      {"data": {"name": "auc"}, "transform": [{"filter": "datum.p=='G'"}], "mark": {"type": "text", "align": "right", "baseline": "alphabetic", "fontSize": 15, "fontWeight": "bold", "color": "black"},
       "encoding": {"text": {"field": "a"}}},
      {"data": {"name": "auc"}, "transform": [{"filter": "datum.p=='G'"}], "mark": {"type": "text", "align": "right", "baseline": "alphabetic", "fontSize": 15, "fontWeight": "bold", "dx": -78.4},
       "encoding": {"text": {"field": "s"}, "fill": {"field": "s", "type": "nominal", "legend": null, "scale": {"domain": ["Test", "Training"], "range": ["#d9a726", "#22a54b"]}}}}
    ]
  },
  {"width": 183, "height": 208, "data": {"values": []}, "mark": "point"},
  {
    "width": 227, "height": 208,
    "title": {"text": "TAN (evidence-based model)"},
    "view": {"stroke": "black", "strokeWidth": 2.5},
    "encoding": {
      "x": {"field": "f", "type": "quantitative", "scale": {"domain": [-0.0383, 1.0494], "nice": false, "zero": false}, "axis": {"title": "False positive rate", "values": [0, 0.2, 0.4, 0.6, 0.8, 1], "format": ".1f", "labelPadding": 0.2, "titlePadding": 2}},
      "y": {"field": "t", "type": "quantitative", "scale": {"domain": [-0.0553, 1.0297], "nice": false, "zero": false}, "axis": {"title": "True positive rate", "values": [0, 0.2, 0.4, 0.6, 0.8, 1], "format": ".1f", "labelPadding": 0.5, "titlePadding": 0}}
    },
    "layer": [
      {"data": {"name": "roc"}, "transform": [{"filter": "datum.p=='H'"}], "mark": {"type": "line", "strokeWidth": 3.5},
       "encoding": {"stroke": {"field": "s", "type": "nominal", "legend": null, "scale": {"domain": ["Test", "Training"], "range": ["#f8bc1b", "#1ba24a"]}}, "order": {"value": null}}},
      {"data": {"name": "auc"}, "transform": [{"filter": "datum.p=='H'"}], "mark": {"type": "text", "align": "right", "baseline": "alphabetic", "fontSize": 15, "fontWeight": "bold", "color": "black"},
       "encoding": {"text": {"field": "a"}}},
      {"data": {"name": "auc"}, "transform": [{"filter": "datum.p=='H'"}], "mark": {"type": "text", "align": "right", "baseline": "alphabetic", "fontSize": 15, "fontWeight": "bold", "dx": -78.4},
       "encoding": {"text": {"field": "s"}, "fill": {"field": "s", "type": "nominal", "legend": null, "scale": {"domain": ["Test", "Training"], "range": ["#d9a726", "#22a54b"]}}}}
    ]
  }
]
}
